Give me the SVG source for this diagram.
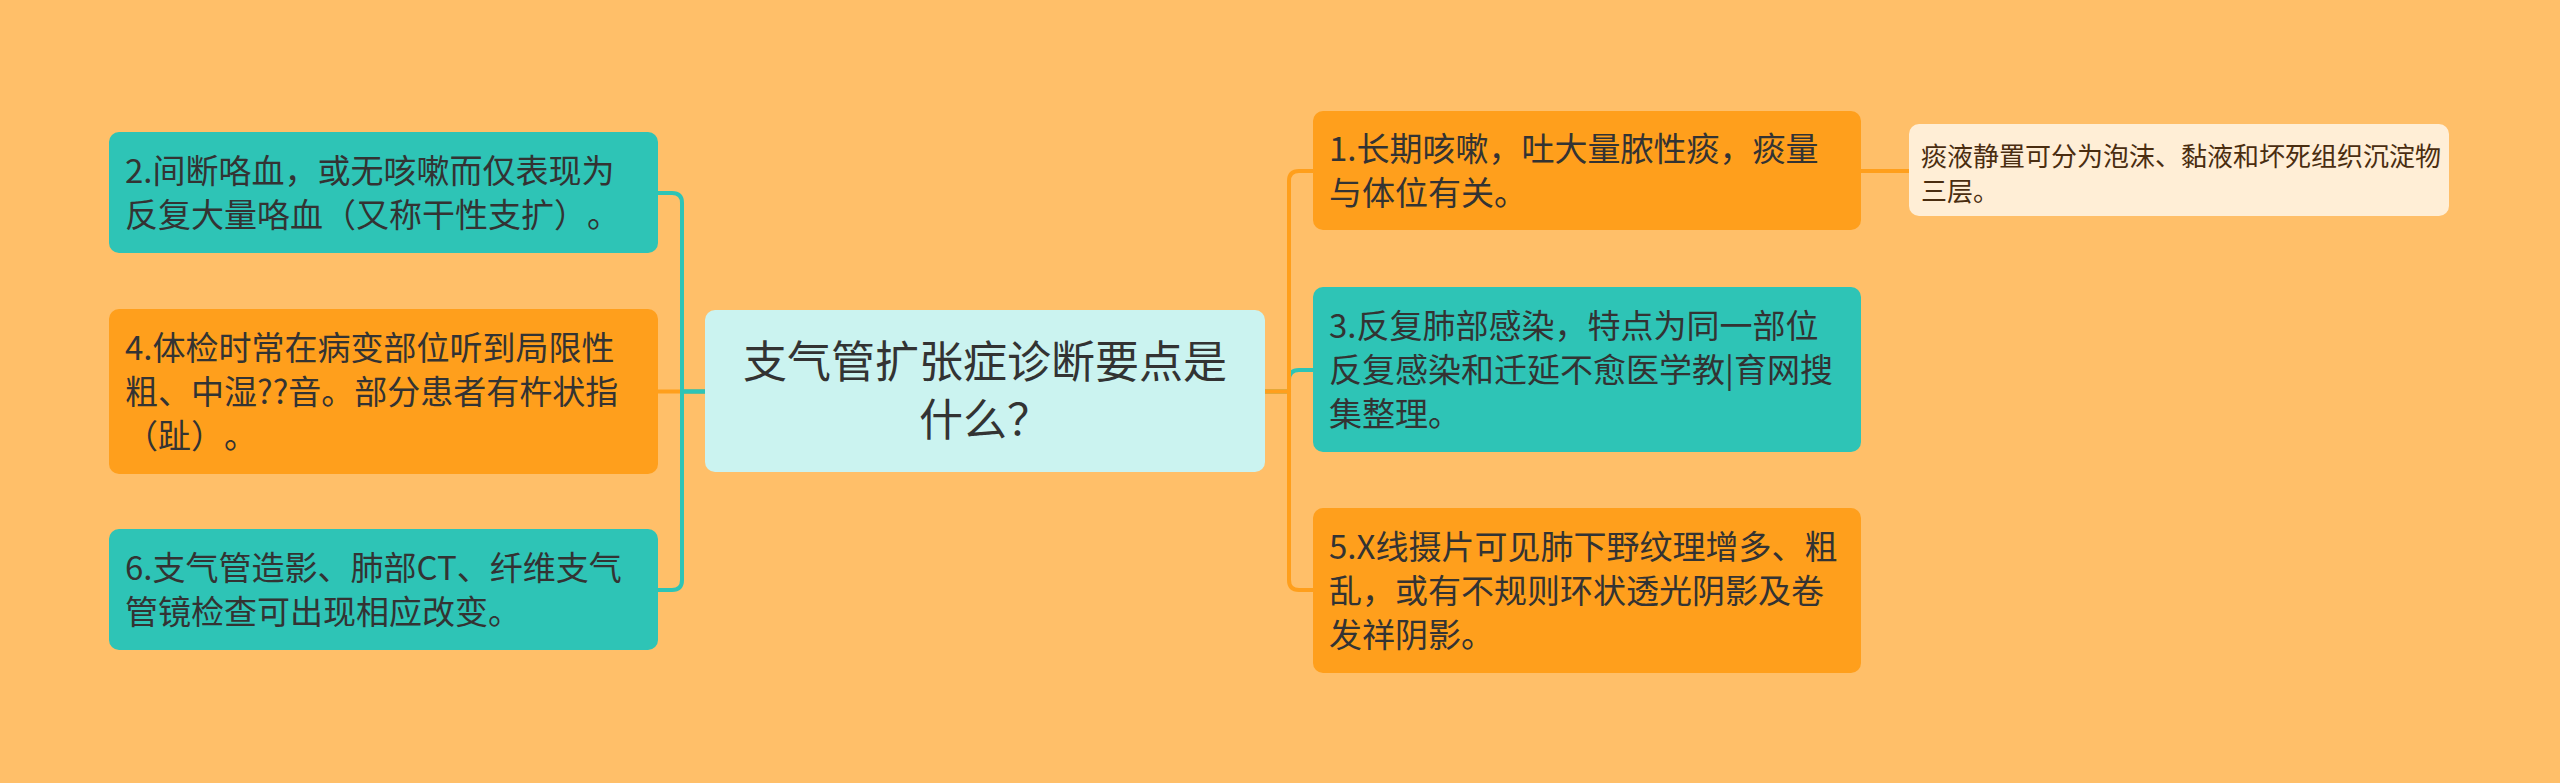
<svg xmlns="http://www.w3.org/2000/svg" width="2560" height="783" viewBox="0 0 2560 783">
<style>
text{text-spacing-trim:space-all;font-feature-settings:"chws" 0,"halt" 0,"palt" 0}
.t{font-family:"Noto Sans CJK SC","Noto Sans",sans-serif;font-size:33px;fill:#333333}
.title{font-family:"Noto Sans CJK SC","Noto Sans",sans-serif;font-size:44px;fill:#333333}
.sub{font-family:"Noto Sans CJK SC","Noto Sans",sans-serif;font-size:26px;fill:#4a2d10}
.teal{fill:#2ec4b6}
.orange{fill:#ff9f1c}
.lt{fill:none;stroke:#2ec4b6;stroke-width:4;stroke-linecap:round;stroke-linejoin:round}
.lo{fill:none;stroke:#ff9f1c;stroke-width:4;stroke-linecap:round;stroke-linejoin:round}
</style>
<rect x="0" y="0" width="2560" height="783" fill="#ffbf69"/>
<g id="connectors">
<path class="lo" d="M707 391.5 H658"/>
<path class="lt" d="M707 391.5 H682 V203 Q682 193 672 193 H658"/>
<path class="lt" d="M707 391.5 H682 V580 Q682 590 672 590 H658"/>
<path class="lt" d="M1265 391.5 H1289 V380 Q1289 370 1299 370 H1313"/>
<path class="lo" d="M1265 391.5 H1289 V181 Q1289 171 1299 171 H1313"/>
<path class="lo" d="M1265 391.5 H1289 V580 Q1289 590 1299 590 H1313"/>
<path class="lo" d="M1861 171 H1909"/>
</g>
<g id="center">
<rect x="705" y="310" width="560" height="162" rx="10" fill="#cbf3f0"/>
<text class="title" text-anchor="middle"><tspan x="985" y="378">支气管扩张症诊断要点是</tspan><tspan x="985" y="436">什么？</tspan></text>
</g>
<g id="n2">
<rect class="teal" x="109" y="132" width="549" height="121" rx="10"/>
<text class="t"><tspan x="125" y="183">2.间断咯血，或无咳嗽而仅表现为</tspan><tspan x="125" y="227">反复大量咯血（又称干性支扩）。</tspan></text>
</g>
<g id="n4">
<rect class="orange" x="109" y="309" width="549" height="165" rx="10"/>
<text class="t"><tspan x="125" y="360">4.体检时常在病变部位听到局限性</tspan><tspan x="125" y="404">粗、中湿??音。部分患者有杵状指</tspan><tspan x="125" y="448">（趾）。</tspan></text>
</g>
<g id="n6">
<rect class="teal" x="109" y="529" width="549" height="121" rx="10"/>
<text class="t"><tspan x="125" y="580">6.支气管造影、肺部CT、纤维支气</tspan><tspan x="125" y="624">管镜检查可出现相应改变。</tspan></text>
</g>
<g id="n1">
<rect class="orange" x="1313" y="111" width="548" height="119" rx="10"/>
<text class="t"><tspan x="1329" y="161">1.长期咳嗽，吐大量脓性痰，痰量</tspan><tspan x="1329" y="205">与体位有关。</tspan></text>
</g>
<g id="n3">
<rect class="teal" x="1313" y="287" width="548" height="165" rx="10"/>
<text class="t"><tspan x="1329" y="338">3.反复肺部感染，特点为同一部位</tspan><tspan x="1329" y="382">反复感染和迁延不愈医学教|育网搜</tspan><tspan x="1329" y="426">集整理。</tspan></text>
</g>
<g id="n5">
<rect class="orange" x="1313" y="508" width="548" height="165" rx="10"/>
<text class="t"><tspan x="1329" y="559">5.X线摄片可见肺下野纹理增多、粗</tspan><tspan x="1329" y="603">乱，或有不规则环状透光阴影及卷</tspan><tspan x="1329" y="647">发祥阴影。</tspan></text>
</g>
<g id="n1a">
<rect x="1909" y="124" width="540" height="92" rx="10" fill="#ffeed6"/>
<text class="sub"><tspan x="1921" y="166">痰液静置可分为泡沫、黏液和坏死组织沉淀物</tspan><tspan x="1921" y="201">三层。</tspan></text>
</g>
</svg>
